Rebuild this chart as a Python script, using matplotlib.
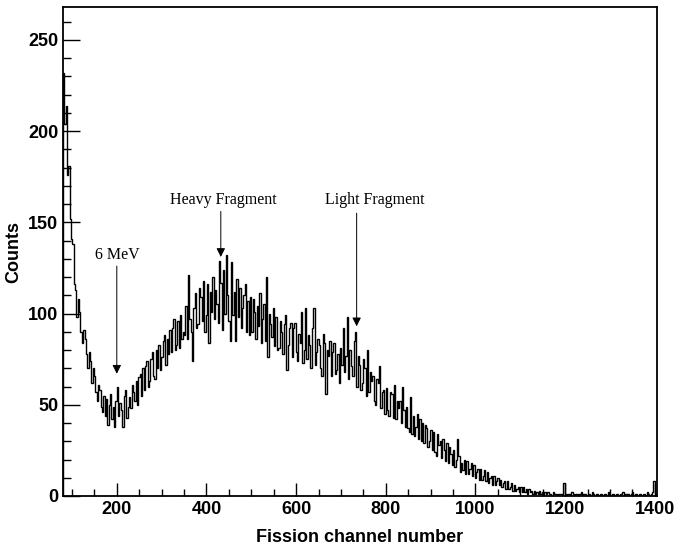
import numpy as np
import matplotlib.pyplot as plt

# histogram: 3-channel bins from channel 80 to 1406
edges = np.arange(80, 1407, 3)
counts = [
    232, 204, 214, 176, 181, 152, 141, 138, 116, 113,   # 80-110
    98, 108, 101, 90, 84, 91, 86, 78, 70, 79,           # 110-140
    74, 62, 70, 66, 57, 52, 61, 58, 49, 46,             # 140-170
    55, 44, 53, 39, 50, 56, 42, 49, 38, 52,             # 170-200
    60, 44, 51, 47, 38, 55, 58, 43, 49, 54,             # 200-230
    48, 61, 57, 52, 63, 50, 65, 67, 55, 70,             # 230-260
    58, 71, 74, 60, 63, 75, 79, 66, 64, 80,             # 260-290
    70, 83, 69, 76, 85, 88, 72, 86, 78, 91,             # 290-320
    79, 92, 97, 80, 83, 96, 81, 99, 86, 90,             # 320-350
    88, 104, 86, 121, 97, 90, 74, 103, 111, 92,         # 350-380
    94, 114, 109, 96, 118, 90, 99, 116, 84, 112,        # 380-410
    101, 120, 97, 113, 105, 95, 129, 117, 91, 124,      # 410-440
    100, 132, 110, 96, 85, 128, 99, 112, 85, 119,       # 440-470
    98, 114, 92, 103, 110, 116, 90, 107, 88, 109,       # 470-500
    90, 108, 101, 86, 104, 93, 111, 84, 97, 105,        # 500-530
    85, 120, 76, 100, 94, 87, 103, 82, 98, 80,          # 530-560
    81, 96, 90, 78, 94, 99, 69, 83, 92, 95,             # 560-590
    76, 92, 95, 79, 74, 89, 84, 101, 73, 80,            # 590-620
    103, 75, 88, 83, 70, 92, 103, 72, 79, 86,           # 620-650
    83, 70, 66, 89, 84, 56, 80, 77, 85, 66,             # 650-680
    79, 84, 67, 69, 78, 62, 81, 72, 92, 68,             # 680-710
    77, 98, 64, 80, 71, 66, 85, 90, 60, 77,             # 710-740
    72, 58, 62, 75, 70, 55, 80, 57, 68, 63,             # 740-770
    66, 52, 50, 64, 62, 71, 48, 57, 58, 45,             # 770-800
    59, 47, 44, 57, 56, 43, 61, 42, 52, 48,             # 800-830
    52, 40, 60, 47, 38, 49, 37, 35, 54, 34,             # 830-860
    44, 33, 38, 45, 31, 42, 30, 40, 29, 39,             # 860-890
    37, 27, 30, 36, 25, 35, 24, 22, 34, 28,             # 890-920
    30, 21, 31, 25, 19, 29, 18, 27, 23, 17,             # 920-950
    25, 16, 20, 31, 22, 13, 18, 14, 20, 12,             # 950-980
    19, 12, 15, 18, 11, 17, 10, 13, 15, 9,              # 980-1010
    15, 9, 11, 14, 8, 13, 7, 10, 11, 6,                 # 1010-1040
    11, 6, 8, 10, 6, 9, 5, 7, 8, 4,                     # 1040-1070
    8, 4, 5, 7, 3, 6, 3, 4, 5, 2,                       # 1070-1100
    5, 2, 5, 2, 4, 1, 4, 2, 3, 1,                       # 1100-1130
    3, 1, 2, 1, 3, 1, 2, 0, 2, 1,                       # 1130-1160
    2, 1, 1, 0, 2, 1, 1, 0, 1, 1,                       # 1160-1190
    1, 0, 7, 1, 0, 1, 1, 0, 2, 1,                       # 1190-1220
    0, 1, 1, 0, 1, 2, 0, 1, 1, 0,                       # 1220-1250
    1, 1, 0, 2, 1, 0, 1, 1, 0, 1,                       # 1250-1280
    1, 0, 1, 1, 0, 2, 1, 0, 1, 1,                       # 1280-1310
    0, 1, 1, 0, 1, 1, 2, 0, 1, 1,                       # 1310-1340
    1, 0, 1, 2, 0, 1, 1, 0, 1, 1,                       # 1340-1370
    0, 1, 1, 0, 2, 1, 0, 1, 2, 8,                       # 1370-1400
    1, 0,                                               # 1400-1406
]

# annotations: label, arrow channel, arrow tip count, arrow start count, text channel, text count
marks = [
    ("6 MeV", 200, 67, 126, 202, 132),
    ("Heavy Fragment", 432, 131, 156, 437, 162),
    ("Light Fragment", 735, 93, 155, 776, 162),
]

fig = plt.figure(figsize=(6.76, 5.48), dpi=100)
ax = fig.add_axes([0.0932, 0.0949, 0.8787, 0.8923])

ax.stairs(counts, edges, color='black', lw=1.0)

for label, xc, tip, start, tx, ty in marks:
    ax.annotate('', xy=(xc, tip), xytext=(xc, start),
                arrowprops=dict(arrowstyle='-|>', color='black', lw=0.7,
                                mutation_scale=13, shrinkA=0, shrinkB=0))
    ax.text(tx, ty, label, ha='center', va='center',
            family='Liberation Serif', fontsize=11.5)

ax.set_xlim(80, 1405)
ax.set_ylim(0, 268)
ax.set_xticks(np.arange(200, 1401, 200))
ax.set_xticks(np.arange(100, 1401, 50), minor=True)
ax.set_yticks(np.arange(0, 251, 50))
ax.set_yticks(np.arange(0, 268, 10), minor=True)

ax.tick_params(axis='both', which='both', direction='in', top=False, right=False,
               width=1.0, labelsize=13)
ax.tick_params(axis='y', which='major', length=12)
ax.tick_params(axis='y', which='minor', length=5.8)
ax.tick_params(axis='x', which='major', length=9.4)
ax.tick_params(axis='x', which='minor', length=5)
for lab in ax.get_xticklabels() + ax.get_yticklabels():
    lab.set_family('Liberation Sans')
    lab.set_fontweight('bold')
for s in ax.spines.values():
    s.set_linewidth(1.3)

ax.set_xlabel('Fission channel number', family='Liberation Sans',
              fontweight='bold', fontsize=13, labelpad=8)
ax.set_ylabel('Counts', family='Liberation Sans', fontweight='bold',
              fontsize=13, labelpad=4)

fig.savefig('out.png', dpi=100)
